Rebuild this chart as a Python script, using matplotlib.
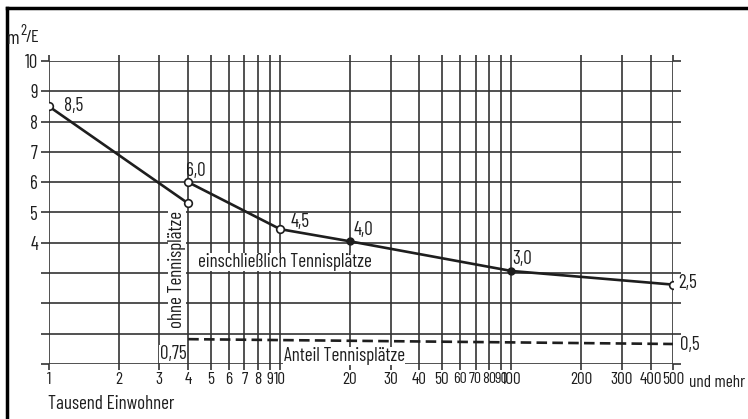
import matplotlib
matplotlib.use("Agg")
import matplotlib.pyplot as plt
from matplotlib.lines import Line2D

plt.rcParams['font.family'] = ['Barlow Condensed', 'DejaVu Sans']

# Werte
x_ohne = [1, 4]
y_ohne = [8.5, 5.3]
x_ein = [4, 10, 20, 100, 500]
y_ein = [6.0, 4.45, 4.05, 3.07, 2.62]
x_anteil = [4, 500]
y_anteil = [0.82, 0.66]

x_ticks = [1, 2, 3, 4, 5, 6, 7, 8, 9, 10, 20, 30, 40, 50, 60, 70, 80, 90,
           100, 200, 300, 400, 500]
x_labels = [str(v) for v in x_ticks]
y_ticks = list(range(0, 11))
y_labels = [str(v) if v >= 4 else '' for v in y_ticks]

ink = '#1e1e1e'
grid = '#333333'
fs = 13.7

fig = plt.figure(figsize=(7.48, 4.19), dpi=100)
ax = fig.add_axes([49 / 748, 1 - 364 / 419, (673 - 49) / 748, (364 - 61) / 419])
ax.set_xscale('log')
ax.set_xlim(1, 500)
ax.set_ylim(0, 10)
ax.set_xticks(x_ticks)
ax.set_xticklabels(x_labels)
ax.xaxis.set_minor_locator(matplotlib.ticker.NullLocator())
ax.set_yticks(y_ticks)
ax.set_yticklabels(y_labels)
for s in ax.spines.values():
    s.set_visible(False)
ax.grid(True, which='major', color=grid, lw=1.2)
ax.tick_params(axis='x', which='major', direction='out', length=4, width=1.2,
               color=grid, top=True, labelsize=12.5, pad=2, labelcolor=ink)
ax.tick_params(axis='y', which='major', direction='out', length=6, width=1.2,
               color=grid, right=True, labelsize=13.5, pad=2, labelcolor=ink)
# dicht gedraengte Beschriftungen 60..90 etwas kleiner
for t, v in zip(ax.get_xticklabels(), x_ticks):
    if 60 <= v <= 90:
        t.set_fontsize(11.5)

# Kurven
ax.plot(x_ohne, y_ohne, color=ink, lw=1.9, marker='o', ms=5.5,
        mfc='white', mec=ink, mew=1.2, zorder=5)
ax.plot(x_ein, y_ein, color=ink, lw=1.9, zorder=5)
ax.plot([x_ein[0], x_ein[1], x_ein[-1]], [y_ein[0], y_ein[1], y_ein[-1]],
        ls='none', marker='o', ms=5.5, mfc='white', mec=ink, mew=1.2, zorder=6)
ax.plot(x_ein[2:4], y_ein[2:4], ls='none', marker='o', ms=5, color=ink, zorder=6)
ax.plot(x_anteil, y_anteil, color=ink, lw=1.9, dashes=(4, 2), zorder=5)


# Beschriftungen (Pixelpositionen im Bild)
def px(x, y, s, **kw):
    fig.text(x / 748, 1 - y / 419, s, fontsize=kw.pop('size', fs), color=ink,
             ha=kw.pop('ha', 'center'), va=kw.pop('va', 'center'), **kw)


white = dict(facecolor='white', edgecolor='none', pad=0.3)
px(74, 106, '8,5')
px(196, 171, '6,0')
px(300, 222, '4,5')
px(363, 230, '4,0')
px(522, 259, '3,0')
px(678, 283, '2,5', ha='left')
px(680, 345, '0,5', ha='left')
px(173, 354, '0,75', bbox=white)
px(285, 262, 'einschließlich Tennisplätze', bbox=white)
px(344, 356, 'Anteil Tennisplätze', bbox=white)
px(177, 269, 'ohne Tennisplätze', rotation=90, bbox=white)
px(7, 39, 'm', ha='left', size=14)
px(20, 31, '2', ha='left', size=11)
px(26, 38, '/E', ha='left', size=13)
px(48, 404, 'Tausend Einwohner', ha='left')
px(689, 382, 'und mehr', ha='left', size=12.5)

# Rahmen oben und links
fig.add_artist(Line2D([7 / 748, 7 / 748], [0, 1 - 8 / 419], color='black', lw=2.5))
fig.add_artist(Line2D([7 / 748, 1], [1 - 8 / 419, 1 - 8 / 419], color='black', lw=2.5))

fig.savefig('out.png', dpi=100, facecolor='white')
